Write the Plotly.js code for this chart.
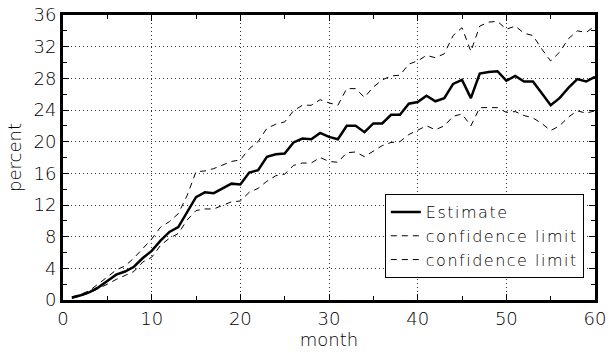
<!DOCTYPE html>
<html>
<head>
<meta charset="utf-8">
<script src="https://cdn.plot.ly/plotly-3.0.1.min.js"></script>
<style>html,body{margin:0;padding:0;background:#fff;}#chart{width:616px;height:353px;}.legendtext{letter-spacing:1.5px;}</style>
</head>
<body>
<div id="chart"></div>
<script>
const months = [1,2,3,4,5,6,7,8,9,10,11,12,13,14,15,16,17,18,19,20,21,22,23,24,25,26,27,28,29,30,31,32,33,34,35,36,37,38,39,40,41,42,43,44,45,46,47,48,49,50,51,52,53,54,55,56,57,58,59,60];
const estimate = [0.3,0.6,1.0,1.6,2.4,3.2,3.6,4.2,5.3,6.2,7.5,8.6,9.2,11.1,13.0,13.6,13.5,14.1,14.7,14.6,16.1,16.4,18.1,18.4,18.5,19.9,20.4,20.3,21.1,20.6,20.3,22.0,22.0,21.2,22.3,22.3,23.4,23.4,24.8,25.0,25.8,25.1,25.5,27.3,27.8,25.5,28.6,28.8,28.9,27.7,28.3,27.6,27.6,26.1,24.6,25.5,26.8,27.9,27.6,28.2];
const upperLimit = [0.4,0.7,1.2,2.0,2.9,3.8,4.3,5.3,6.5,7.7,9.2,9.9,10.9,13.2,16.2,16.3,16.6,17.1,17.5,17.7,19.1,20.0,21.7,22.2,22.5,23.9,24.6,24.6,25.3,24.9,24.6,26.7,26.7,25.6,26.9,27.8,28.3,28.4,29.8,30.2,30.9,30.6,31.1,33.4,34.4,31.4,34.6,35.1,35.2,34.2,34.6,33.7,33.4,31.7,30.2,31.3,33.0,34.0,33.8,34.6];
const lowerLimit = [0.2,0.5,0.9,1.4,2.0,2.6,3.1,3.6,4.8,5.4,6.9,7.8,8.4,10.1,11.3,11.5,11.5,12.0,12.4,12.5,13.6,14.1,15.0,15.7,15.9,17.0,17.3,17.3,18.0,17.5,17.4,18.6,18.7,18.1,18.8,19.5,19.9,20.0,20.9,21.4,22.0,21.5,22.0,23.2,23.5,22.0,24.3,24.3,24.3,23.7,23.8,23.3,23.0,22.3,21.4,22.0,23.1,23.9,23.6,23.9];
const xTicks = [0,10,20,30,40,50,60];
const yTicks = [0,4,8,12,16,20,24,28,32,36];

const font = {family: 'DejaVu Sans, sans-serif', size: 18, color: '#000', weight: 200};
const legendFont = {family: 'DejaVu Sans, sans-serif', size: 16, color: '#000', weight: 200};
const traces = [
  {x: months, y: estimate, name: 'Estimate', mode: 'lines', line: {color: '#000', width: 2.5}},
  {x: months, y: upperLimit, name: 'confidence limit', mode: 'lines', line: {color: '#000', width: 1, dash: '6px,5px'}},
  {x: months, y: lowerLimit, name: 'confidence limit', mode: 'lines', line: {color: '#000', width: 1, dash: '6px,5px'}}
];
const axisCommon = {
  showline: true, linecolor: '#000', linewidth: 3, mirror: 'allticks',
  ticks: 'inside', ticklen: 6, tickcolor: '#000', tickwidth: 1,
  showgrid: true, gridcolor: '#333', gridwidth: 1, griddash: '1px,3px',
  zeroline: false, tickfont: font
};
const layout = {
  width: 616, height: 353,
  margin: {l: 63, r: 21, t: 15, b: 53},
  paper_bgcolor: '#fff', plot_bgcolor: '#fff',
  font: font,
  showlegend: true,
  legend: {x: 0.979, y: 0.077, xanchor: 'right', yanchor: 'bottom', bordercolor: '#000', borderwidth: 1, bgcolor: '#fff', font: legendFont, tracegroupgap: 0, itemwidth: 30},
  xaxis: Object.assign({}, axisCommon, {
    range: [0, 60], tickmode: 'array', tickvals: xTicks, ticktext: xTicks.map(String),
    minor: {tickmode: 'linear', tick0: 0, dtick: 5, ticks: 'inside', ticklen: 4, tickcolor: '#000', showgrid: false},
    title: {text: 'month', font: font, standoff: 6}
  }),
  yaxis: Object.assign({}, axisCommon, {
    range: [0, 36], tickmode: 'array', tickvals: yTicks, ticktext: yTicks.map(String),
    minor: {tickmode: 'linear', tick0: 0, dtick: 2, ticks: 'inside', ticklen: 4, tickcolor: '#000', showgrid: false},
    title: {text: 'percent', font: font, standoff: 8}
  })
};
Plotly.newPlot('chart', traces, layout, {displayModeBar: false, staticPlot: true});
</script>
</body>
</html>
